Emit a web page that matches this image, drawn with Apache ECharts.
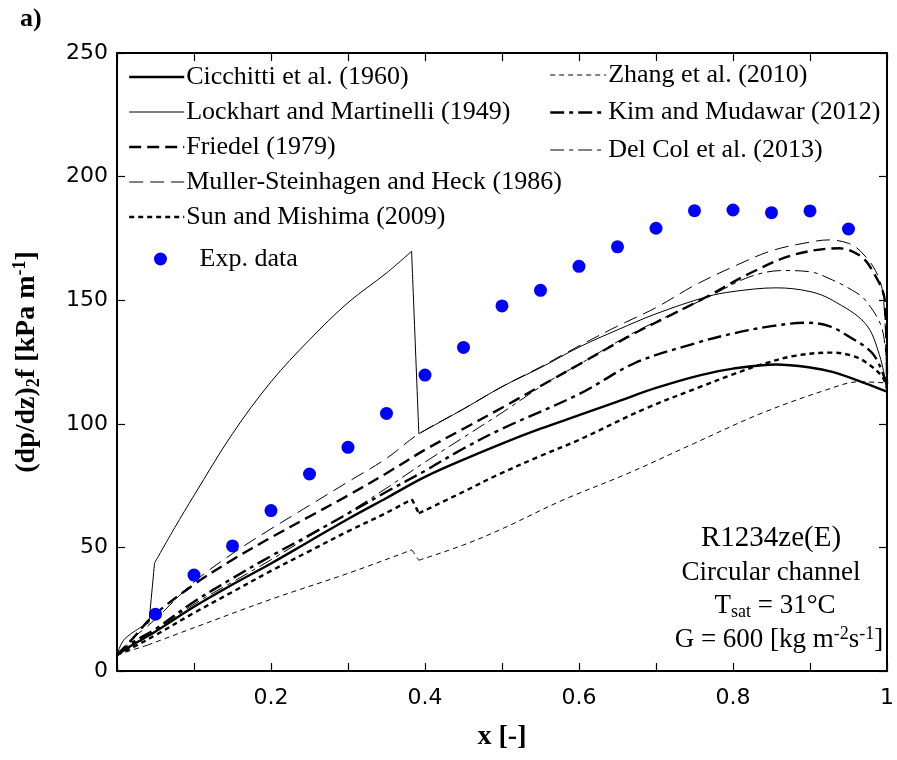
<!DOCTYPE html>
<html>
<head>
<meta charset="utf-8">
<script src="https://cdn.jsdelivr.net/npm/echarts@6/dist/echarts.min.js"></script>
<style>
html,body{margin:0;padding:0;background:#fff;}
#chart{width:897px;height:760px;}
</style>
</head>
<body>
<div id="chart"></div>
<script>
// ---- Data ----
const expX = [0.05, 0.10, 0.15, 0.20, 0.25, 0.30, 0.35, 0.40, 0.45, 0.50, 0.55, 0.60, 0.65, 0.70, 0.75, 0.80, 0.85, 0.90, 0.95];
const expY = [23.0, 38.8, 50.6, 64.9, 79.7, 90.5, 104.2, 119.7, 130.9, 147.7, 154.0, 163.7, 171.6, 179.1, 186.2, 186.5, 185.4, 186.1, 178.8];

const cicchitti = [[0,6.5],[0.02,10.5],[0.05,16],[0.1,26],[0.15,35],[0.2,43.5],[0.25,52.5],[0.3,61.5],[0.35,70],[0.4,78.5],[0.45,85.5],[0.5,92],[0.55,98],[0.6,103.5],[0.65,109],[0.7,114.5],[0.758,119.7],[0.8,122.3],[0.856,124],[0.9,122.8],[0.929,121],[0.972,116.4],[1,113]];
const lockhart = [[0,6.5],[0.01,13],[0.0415,19.5],[0.0488,43.7],[0.075,58],[0.1,71],[0.15,96],[0.2,117],[0.25,134],[0.3,149],[0.35,161],[0.3826,169.8],[0.392,96],[0.45,106],[0.5,115],[0.552,123],[0.6,131],[0.65,138],[0.7,144.5],[0.766,151.4],[0.8,153.5],[0.856,155],[0.9,153.5],[0.929,150],[0.972,140.5],[0.99,128],[1,114]];
const friedel = [[0,6.5],[0.02,13],[0.046,22],[0.1,35],[0.15,45],[0.2,54],[0.25,62.5],[0.3,71],[0.35,80],[0.4,89.5],[0.45,98],[0.5,106.5],[0.56,117],[0.6,124],[0.672,136.6],[0.715,143.3],[0.766,151.4],[0.822,160.9],[0.878,168.3],[0.938,171],[0.965,168],[0.981,162],[0.997,150],[1,116]];
const muller = [[0,6.5],[0.02,13],[0.05,21],[0.1,36],[0.15,47.5],[0.2,57.5],[0.25,67],[0.3,76.5],[0.35,86],[0.39,95.5],[0.45,106],[0.5,115],[0.55,123],[0.6,131.5],[0.65,139.5],[0.7,147],[0.75,156],[0.8,163.5],[0.85,170],[0.9,173.5],[0.925,174.4],[0.95,173],[0.965,170],[0.985,162],[0.995,152],[1,116]];
const sun = [[0,6.5],[0.02,9.5],[0.05,14.5],[0.1,23.5],[0.15,32],[0.2,40.5],[0.25,48.5],[0.3,56.5],[0.35,64],[0.383,69.5],[0.392,63.8],[0.45,72.5],[0.492,79],[0.55,87],[0.6,93.5],[0.685,106],[0.758,115],[0.8,120],[0.835,123.8],[0.88,127.5],[0.929,128.8],[0.955,127.5],[0.972,125],[0.994,119],[1,114]];
const zhang = [[0,6.5],[0.04,10.5],[0.1,17.5],[0.2,29],[0.3,39.5],[0.383,49],[0.392,44.8],[0.45,51],[0.5,57.5],[0.578,69],[0.664,80],[0.749,92],[0.835,104],[0.921,113.7],[0.964,117],[1,116.5]];
const kim = [[0,6.5],[0.02,11.5],[0.05,17],[0.1,28],[0.15,37.5],[0.2,46.5],[0.25,55],[0.3,63.7],[0.35,72.5],[0.4,81],[0.45,90],[0.5,98],[0.6,112],[0.672,124.5],[0.75,132.5],[0.801,136.6],[0.85,139.5],[0.895,140.9],[0.925,139.5],[0.951,135.2],[0.981,128.5],[0.998,117.7],[1,114]];
const delcol = [[0,6.5],[0.02,11],[0.05,16.5],[0.1,27],[0.15,36],[0.2,45],[0.25,54.5],[0.3,64],[0.35,74],[0.4,84.5],[0.45,94.5],[0.5,104.5],[0.56,117],[0.6,124],[0.672,137],[0.766,151],[0.822,159.5],[0.865,162],[0.9,161.5],[0.929,158.2],[0.955,154],[0.972,150],[0.994,138],[1,116]];

// indices of sharp corners (kinks / jumps) in each curve
const lockhartKinks = [2, 3, 11, 12];
const sunKinks = [9, 10];
const zhangKinks = [1, 5, 6];

const names = {
  cic: 'Cicchitti et al. (1960)',
  lm: 'Lockhart and Martinelli (1949)',
  fr: 'Friedel (1979)',
  ms: 'Muller-Steinhagen and Heck (1986)',
  sun: 'Sun and Mishima (2009)',
  exp: 'Exp. data',
  zh: 'Zhang et al. (2010)',
  kim: 'Kim and Mudawar (2012)',
  dc: 'Del Col et al. (2013)'
};

// ---- Chart ----
const chart = echarts.init(document.getElementById('chart'), null, {renderer: 'canvas'});
const SERIF = '"Liberation Serif", "Times New Roman", serif';
const SANS = '"DejaVu Sans", Arial, sans-serif';

function lineSeries(name, data, width, type) {
  return {
    name: name, type: 'line', data: data, symbol: 'none', showSymbol: false,
    smooth: 0.35,
    lineStyle: {color: '#000', width: width, type: type},
    itemStyle: {color: '#000'},
    z: 3, silent: true, animation: false
  };
}
// split a curve at its corners so that smoothing keeps the corners sharp
function pieces(name, data, kinks, width, type) {
  const cuts = [0].concat(kinks, [data.length - 1]);
  const out = [];
  for (let i = 0; i < cuts.length - 1; i++) {
    out.push(lineSeries(name, data.slice(cuts[i], cuts[i + 1] + 1), width, type));
  }
  return out;
}

const axisCommon = {
  type: 'value', splitLine: {show: false},
  axisLine: {show: true, onZero: false, lineStyle: {color: '#000', width: 2}},
  axisTick: {show: true, inside: true, length: 8, lineStyle: {color: '#000', width: 1.2}}
};

const lineLegendText = {fontFamily: SERIF, fontSize: 26, color: '#000', lineHeight: 26, padding: [0, 0, 0, -3]};

const option = {
  animation: false,
  backgroundColor: '#fff',
  grid: {left: 117, right: 2, top: 53, bottom: 89, containLabel: false},
  xAxis: [
    Object.assign({}, axisCommon, {
      position: 'bottom', min: 0, max: 1, interval: 0.1,
      axisLabel: {
        show: true, margin: 16, color: '#000', fontFamily: SANS, fontSize: 22,
        formatter: function (v) {
          const k = Math.round(v * 10);
          if (k === 0 || k % 2 !== 0) return '';
          return k === 10 ? '1' : (k / 10).toFixed(1);
        }
      },
      name: 'x [-]', nameLocation: 'middle', nameGap: 52,
      nameTextStyle: {fontFamily: SERIF, fontWeight: 'bold', fontSize: 28, color: '#000'}
    }),
    Object.assign({}, axisCommon, {
      position: 'top', min: 0, max: 1, interval: 0.1, axisLabel: {show: false}
    })
  ],
  yAxis: [
    Object.assign({}, axisCommon, {
      position: 'left', min: 0, max: 250, interval: 50,
      axisLabel: {show: true, margin: 9, color: '#000', fontFamily: SANS, fontSize: 22},
      name: '(dp/dz){sub|2}f [kPa m{sup|-1}]', nameLocation: 'middle', nameRotate: 90, nameGap: 74,
      nameTextStyle: {
        fontFamily: SERIF, fontWeight: 'bold', fontSize: 28, color: '#000', lineHeight: 32,
        rich: {
          sub: {fontFamily: SERIF, fontWeight: 'bold', fontSize: 18, lineHeight: 12, verticalAlign: 'bottom', color: '#000'},
          sup: {fontFamily: SERIF, fontWeight: 'bold', fontSize: 18, lineHeight: 12, verticalAlign: 'top', color: '#000'}
        }
      }
    }),
    Object.assign({}, axisCommon, {
      position: 'right', min: 0, max: 250, interval: 50, axisLabel: {show: false}
    })
  ],
  legend: [
    {
      data: [names.cic, names.lm, names.fr, names.ms, names.sun],
      orient: 'vertical', left: 128, top: 64, itemWidth: 55, itemHeight: 14, itemGap: 9,
      selectedMode: false, padding: 0,
      itemStyle: {opacity: 0},
      lineStyle: {width: 'inherit', type: 'inherit'},
      textStyle: lineLegendText
    },
    {
      data: [names.exp],
      orient: 'vertical', left: 154, top: 246, itemWidth: 68, itemHeight: 13,
      selectedMode: false, padding: 0,
      textStyle: {fontFamily: SERIF, fontSize: 26, color: '#000', lineHeight: 26}
    },
    {
      data: [names.zh, names.kim, names.dc],
      orient: 'vertical', left: 549, top: 62, itemWidth: 56, itemHeight: 14, itemGap: 11.5,
      selectedMode: false, padding: 0,
      itemStyle: {opacity: 0},
      lineStyle: {width: 'inherit', type: 'inherit'},
      textStyle: lineLegendText
    }
  ],
  series: [].concat(
    [lineSeries(names.cic, cicchitti, 2.4, 'solid')],
    pieces(names.lm, lockhart, lockhartKinks, 1, 'solid'),
    [lineSeries(names.fr, friedel, 2.4, [12, 6])],
    [lineSeries(names.ms, muller, 1, [14, 7])],
    pieces(names.sun, sun, sunKinks, 2.4, [5, 4]),
    [{
      name: names.exp, type: 'scatter', symbol: 'circle', symbolSize: 13,
      data: expX.map((x, i) => [x, expY[i]]),
      itemStyle: {color: '#0000FF', opacity: 1}, z: 5, silent: true, animation: false
    }],
    pieces(names.zh, zhang, zhangKinks, 1, [5, 4]),
    [lineSeries(names.kim, kim, 2.4, [14, 5, 4, 5])],
    [lineSeries(names.dc, delcol, 1, [14, 5, 4, 5])]
  ),
  graphic: [
    {type: 'text', left: 20, top: 6, style: {text: 'a)', font: 'bold 26px ' + SERIF, fill: '#000'}},
    {type: 'text', x: 771, y: 538, style: {text: 'R1234ze(E)', font: '29px ' + SERIF, fill: '#000', align: 'center', verticalAlign: 'middle'}},
    {type: 'text', x: 771, y: 573, style: {text: 'Circular channel', font: '27px ' + SERIF, fill: '#000', align: 'center', verticalAlign: 'middle'}},
    {type: 'text', x: 775, y: 606, style: {
      text: 'T{sub|sat} = 31°C', fontFamily: SERIF, fontSize: 27, lineHeight: 30, fill: '#000', align: 'center', verticalAlign: 'middle',
      rich: {sub: {fontFamily: SERIF, fontSize: 18, lineHeight: 12, verticalAlign: 'bottom', fill: '#000'}}
    }},
    {type: 'text', x: 779, y: 640, style: {
      text: 'G = 600 [kg m{sup|-2}s{sup|-1}]', fontFamily: SERIF, fontSize: 27, lineHeight: 30, fill: '#000', align: 'center', verticalAlign: 'middle',
      rich: {sup: {fontFamily: SERIF, fontSize: 18, lineHeight: 12, verticalAlign: 'top', fill: '#000'}}
    }}
  ]
};
chart.setOption(option);
</script>
</body>
</html>
